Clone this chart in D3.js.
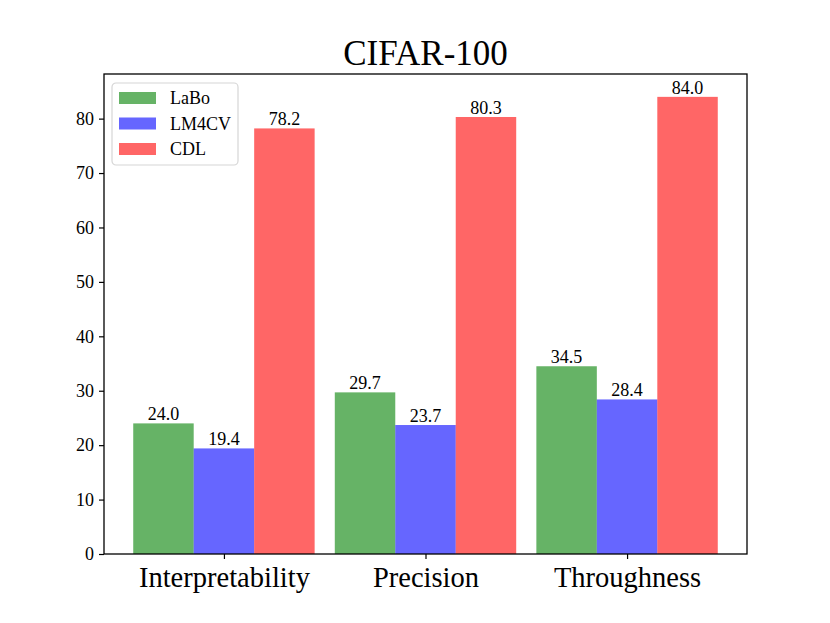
<!DOCTYPE html>
<html>
<head>
<meta charset="utf-8">
<script src="https://cdn.jsdelivr.net/npm/d3@7"></script>
<style>
  body { margin: 0; background: #fff; }
  text { font-family: "Liberation Serif", "DejaVu Serif", serif; fill: #000; }
</style>
</head>
<body>
<div id="wrapper"></div>
<script>
const categories = ["Interpretability", "Precision", "Throughness"];
const seriesNames = ["LaBo", "LM4CV", "CDL"];
const labo = [24.0, 29.7, 34.5];
const lm4cv = [19.4, 23.7, 28.4];
const cdl = [78.2, 80.3, 84.0];
const yTicks = [0, 10, 20, 30, 40, 50, 60, 70, 80];
const seriesColors = ["rgba(0,128,0,0.6)", "rgba(0,0,255,0.6)", "rgba(255,0,0,0.6)"];

function drawChart() {
    const seriesValues = [labo, lm4cv, cdl];
    const width = 830, height = 623;
    const margin = { top: 74, right: 83, bottom: 69, left: 104 };
    const boundedWidth = width - margin.left - margin.right;
    const boundedHeight = height - margin.top - margin.bottom;

    const svg = d3.select("#wrapper").append("svg")
        .attr("width", width)
        .attr("height", height);

    const bounds = svg.append("g")
        .attr("transform", `translate(${margin.left},${margin.top})`);

    const barWidth = 0.3;
    // matplotlib style: data extent plus 5% margin
    const xMin = -0.45, xMax = categories.length - 1 + 0.45;
    const pad = (xMax - xMin) * 0.05;
    const x = d3.scaleLinear()
        .domain([xMin - pad, xMax + pad])
        .range([0, boundedWidth]);

    const yMax = d3.max(cdl) * 1.05;
    const y = d3.scaleLinear()
        .domain([0, yMax])
        .range([boundedHeight, 0]);

    // bars
    seriesValues.forEach((vals, si) => {
        const offset = (si - 1) * barWidth;
        const g = bounds.append("g");
        g.selectAll("rect")
            .data(vals)
            .join("rect")
            .attr("x", (d, i) => x(i + offset - barWidth / 2))
            .attr("width", x(barWidth) - x(0))
            .attr("y", d => y(d))
            .attr("height", d => y(0) - y(d))
            .attr("fill", seriesColors[si]);
        g.selectAll("text")
            .data(vals)
            .join("text")
            .attr("x", (d, i) => x(i + offset))
            .attr("y", d => y(d) - 3)
            .attr("text-anchor", "middle")
            .style("font-size", "18px")
            .text(d => d.toFixed(1));
    });

    // axes
    const yAxis = d3.axisLeft(y)
        .tickValues(yTicks)
        .tickSize(5)
        .tickPadding(5);
    const yG = bounds.append("g").call(yAxis);
    yG.attr("font-family", null).attr("font-size", null);
    yG.select(".domain").remove();
    yG.selectAll("text").style("font-size", "18px");
    yG.selectAll("line").attr("stroke-width", 1.2);

    const xAxis = d3.axisBottom(x)
        .tickValues(d3.range(categories.length))
        .tickFormat(i => categories[i])
        .tickSize(5)
        .tickPadding(8);
    const xG = bounds.append("g")
        .attr("transform", `translate(0,${boundedHeight})`)
        .call(xAxis);
    xG.attr("font-family", null).attr("font-size", null);
    xG.select(".domain").remove();
    xG.selectAll("text").style("font-size", "28.5px");
    xG.selectAll("line").attr("stroke-width", 1.2);

    // frame
    bounds.append("rect")
        .attr("width", boundedWidth)
        .attr("height", boundedHeight)
        .attr("fill", "none")
        .attr("stroke", "#000")
        .attr("stroke-width", 1.3);

    // title
    svg.append("text")
        .attr("x", margin.left + boundedWidth / 2)
        .attr("y", margin.top - 9)
        .attr("text-anchor", "middle")
        .style("font-size", "35px")
        .text("CIFAR-100");

    // legend
    const legend = bounds.append("g").attr("transform", "translate(8,9)");
    legend.append("rect")
        .attr("width", 126)
        .attr("height", 82)
        .attr("rx", 4)
        .attr("fill", "#fff")
        .attr("fill-opacity", 0.8)
        .attr("stroke", "#d6d6d6")
        .attr("stroke-width", 1.2);
    const items = legend.selectAll("g.item")
        .data(seriesNames)
        .join("g")
        .attr("class", "item")
        .attr("transform", (d, i) => `translate(0,${15 + i * 25.5})`);
    items.append("rect")
        .attr("x", 7)
        .attr("y", -6)
        .attr("width", 37)
        .attr("height", 12)
        .attr("fill", (d, i) => seriesColors[i]);
    items.append("text")
        .attr("x", 58)
        .attr("y", 6)
        .style("font-size", "18px")
        .text(d => d);
}
drawChart();
</script>
</body>
</html>
